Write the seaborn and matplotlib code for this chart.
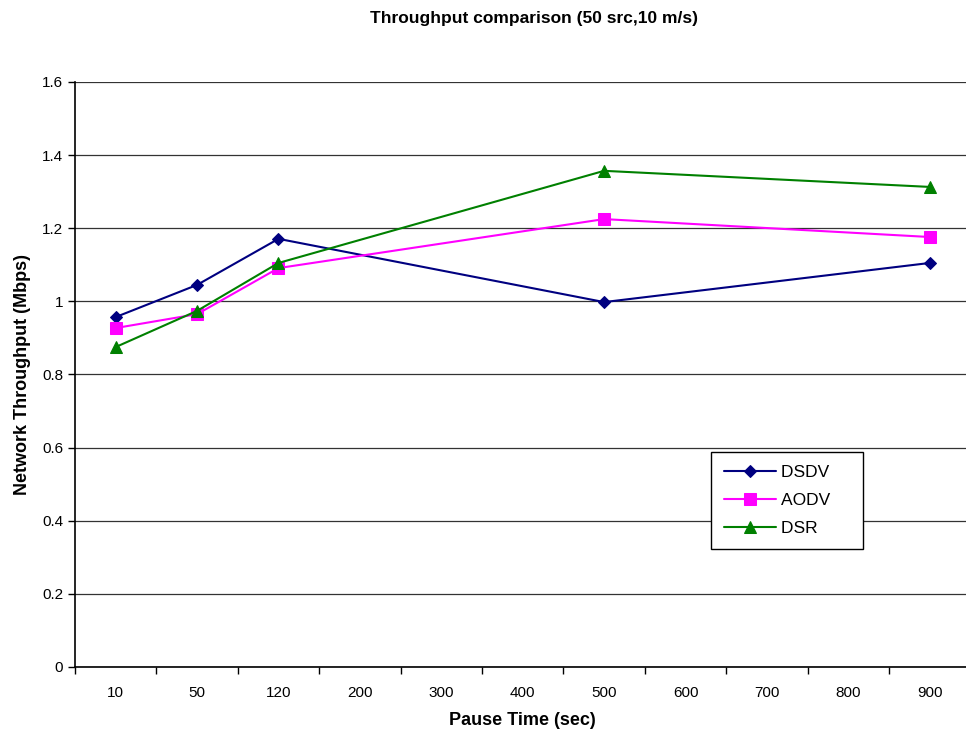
import matplotlib
matplotlib.use("Agg")
import matplotlib.pyplot as plt
import numpy as np
import pandas as pd
import seaborn as sns

# pause time categories (sec)
pause_labels = ["10", "50", "120", "200", "300", "400", "500", "600", "700", "800", "900"]
measured = ["10", "50", "120", "500", "900"]

dsdv = [0.957, 1.045, 1.171, 0.998, 1.105]
aodv = [0.927, 0.965, 1.091, 1.225, 1.176]
dsr = [0.875, 0.974, 1.105, 1.357, 1.313]

series = {"DSDV": dsdv, "AODV": aodv, "DSR": dsr}
colors = {"DSDV": "#000080", "AODV": "#FF00FF", "DSR": "#008000"}
markers = {"DSDV": "D", "AODV": "s", "DSR": "^"}
msizes = {"DSDV": 6, "AODV": 8, "DSR": 8}

rows = []
for name, vals in series.items():
    for lab, v in zip(measured, vals):
        rows.append({"protocol": name, "pos": pause_labels.index(lab), "tp": v})
df = pd.DataFrame(rows)

sns.set_style("white")
plt.rcParams["font.family"] = ["Liberation Sans", "DejaVu Sans"]
plt.rcParams["text.color"] = "black"
plt.rcParams["axes.labelcolor"] = "black"
plt.rcParams["xtick.color"] = "black"
plt.rcParams["ytick.color"] = "black"

fig = plt.figure(figsize=(9.66, 7.36), dpi=100)
ax = fig.add_axes([0.0776, 0.0938, 0.927, 0.7948])

for name in series:
    sub = df[df.protocol == name]
    sns.lineplot(data=sub, x="pos", y="tp", ax=ax, color=colors[name],
                 marker=markers[name], markersize=msizes[name],
                 markeredgecolor=colors[name], linewidth=1.5, label=name)

ax.set_xlim(-0.5, 10.5)
ax.set_ylim(0, 1.6)
ax.set_yticks(np.arange(0, 1.61, 0.2))
ax.set_yticklabels(["0", "0.2", "0.4", "0.6", "0.8", "1", "1.2", "1.4", "1.6"])
ax.set_xticks(range(len(pause_labels)))
ax.set_xticklabels(pause_labels)
ax.set_xticks(np.arange(-0.5, 10.6, 1), minor=True)
ax.tick_params(axis="x", which="major", length=0, pad=14, labelsize=11)
ax.tick_params(axis="x", which="minor", length=5, width=1, direction="out", bottom=True)
ax.tick_params(axis="y", length=5, width=1, direction="out", left=True, labelsize=11)

ax.grid(axis="y", color="#333333", linewidth=0.9)
ax.set_axisbelow(True)
for s in ["top", "right"]:
    ax.spines[s].set_visible(False)
for s in ["left", "bottom"]:
    ax.spines[s].set_color("black")
    ax.spines[s].set_linewidth(1.2)

ax.set_xlabel("Pause Time (sec)", fontsize=13, fontweight="bold", labelpad=8)
ax.set_ylabel("Network Throughput (Mbps)", fontsize=13, fontweight="bold", labelpad=8)
fig.text(0.553, 0.975, "Throughput comparison (50 src,10 m/s)", ha="center", va="center",
         fontsize=12.5, fontweight="bold")

leg = ax.legend(loc="upper left", bbox_to_anchor=(0.736, 0.386), bbox_transform=fig.transFigure,
                frameon=True, fancybox=False, framealpha=1, edgecolor="black",
                fontsize=12.5, handlelength=3.0, labelspacing=0.75, borderpad=0.75,
                borderaxespad=0, handletextpad=0.3)
leg.get_frame().set_linewidth(1.0)
leg.get_frame().set_boxstyle("square", pad=0)
# pad legend box on the right like the reference
for t in leg.get_texts():
    t.set_text(t.get_text() + "    ")

fig.savefig("out.png", dpi=100)
